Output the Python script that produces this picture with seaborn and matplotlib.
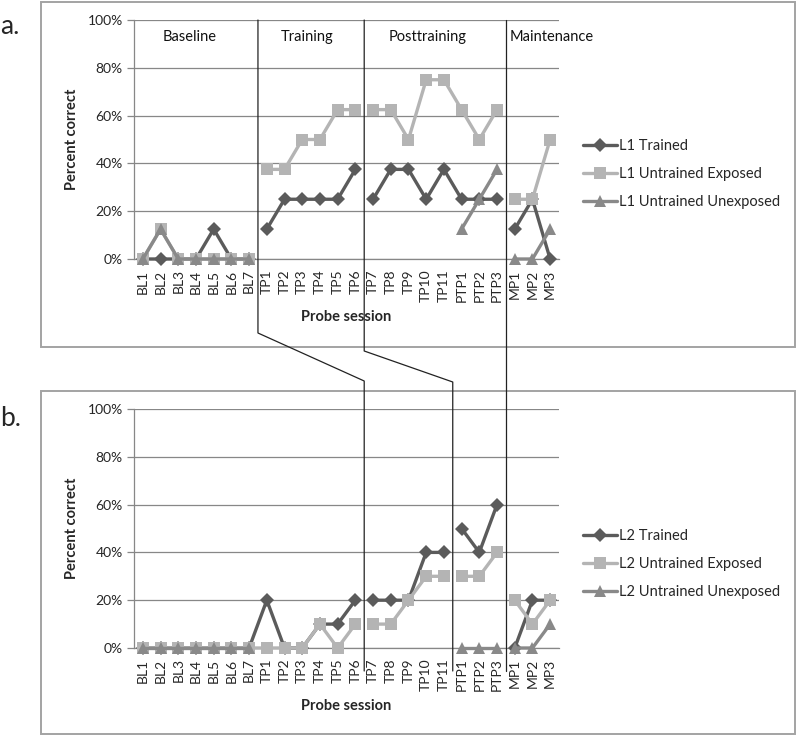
import matplotlib
matplotlib.use("Agg")
import matplotlib.pyplot as plt
from matplotlib.lines import Line2D
from matplotlib.patches import Rectangle
import seaborn as sns
import pandas as pd

# ---------------- data ----------------
sessions = ["BL1", "BL2", "BL3", "BL4", "BL5", "BL6", "BL7",
            "TP1", "TP2", "TP3", "TP4", "TP5", "TP6",
            "TP7", "TP8", "TP9", "TP10", "TP11",
            "PTP1", "PTP2", "PTP3", "MP1", "MP2", "MP3"]
N = None
l1_trained = [0, 0, 0, 0, 12.5, 0, 0,
              12.5, 25, 25, 25, 25, 37.5,
              25, 37.5, 37.5, 25, 37.5,
              25, 25, 25, 12.5, 25, 0]
l1_exposed = [0, 12.5, 0, 0, 0, 0, 0,
              37.5, 37.5, 50, 50, 62.5, 62.5,
              62.5, 62.5, 50, 75, 75,
              62.5, 50, 62.5, 25, 25, 50]
l1_unexposed = [0, 12.5, 0, 0, 0, 0, 0,
                N, N, N, N, N, N,
                N, N, N, N, N,
                12.5, 25, 37.5, 0, 0, 12.5]
l2_trained = [0, 0, 0, 0, 0, 0, 0,
              20, 0, 0, 10, 10, 20,
              20, 20, 20, 40, 40,
              50, 40, 60, 0, 20, 20]
l2_exposed = [0, 0, 0, 0, 0, 0, 0,
              0, 0, 0, 10, 0, 10,
              10, 10, 20, 30, 30,
              30, 30, 40, 20, 10, 20]
l2_unexposed = [0, 0, 0, 0, 0, 0, 0,
                N, N, N, N, N, N,
                N, N, N, N, N,
                0, 0, 0, 0, 0, 10]
phases = ["Baseline", "Training", "Posttraining", "Maintenance"]
# segment id of each session (line breaks between segments)
seg_a = [0] * 7 + [1] * 6 + [2] * 8 + [3] * 3
seg_b = [0] * 13 + [1] * 5 + [2] * 3 + [3] * 3
yticks = [0, 20, 40, 60, 80, 100]

# ---------------- style ----------------
sns.set_style("white")
plt.rcParams["font.family"] = ["Lato", "DejaVu Sans"]

W, H = 798, 737
fig = plt.figure(figsize=(W / 100, H / 100), dpi=100)

def fx(px):
    return px / W

def fy(py):
    return 1 - py / H

C_TR = "#5b5b5b"
C_EX = "#b4b4b4"
C_UN = "#898989"
GRID = "#878787"

series_style = [
    ("Trained", C_TR, "D", 7.0),
    ("Untrained Exposed", C_EX, "s", 8.0),
    ("Untrained Unexposed", C_UN, "^", 8.0),
]

def make_frame(vals, segs):
    rows = []
    for i, (v, s) in enumerate(zip(vals, segs)):
        if v is not None:
            rows.append({"pos": i, "value": v, "seg": s})
    return pd.DataFrame(rows)

def draw_panel(ax, lang, series_vals, segs, legend_y):
    handles = []
    for (name, col, mk, ms), vals in zip(series_style, series_vals):
        df = make_frame(vals, segs)
        sns.lineplot(data=df, x="pos", y="value", units="seg", estimator=None,
                     color=col, marker=mk, markersize=ms, markeredgewidth=0,
                     linewidth=2.4, ax=ax, zorder=3, clip_on=False)
        handles.append(Line2D([], [], color=col, marker=mk, markersize=ms,
                              markeredgewidth=0, linewidth=2.4,
                              label=f"{lang} {name}"))
    ax.set_xlim(-0.5, len(sessions) - 0.5)
    ax.set_ylim(0, 100)
    ax.set_yticks(yticks)
    ax.set_yticklabels([f"{t}%" for t in yticks], fontsize=10)
    ax.set_xticks(range(len(sessions)))
    ax.set_xticklabels(sessions, rotation=90, fontsize=10)
    ax.set_xticks([i - 0.5 for i in range(len(sessions) + 1)], minor=True)
    ax.tick_params(axis="x", which="major", length=0, pad=7.5)
    ax.tick_params(axis="x", which="minor", length=5, color=GRID, width=0.9)
    ax.tick_params(axis="y", length=5, color=GRID, width=0.9, pad=3, left=True)
    ax.yaxis.grid(True, color=GRID, linewidth=0.9)
    ax.xaxis.grid(False)
    ax.set_axisbelow(True)
    for s in ["top", "right"]:
        ax.spines[s].set_visible(False)
    for s in ["left", "bottom"]:
        ax.spines[s].set_color(GRID)
        ax.spines[s].set_linewidth(0.9)
    ax.set_ylabel("Percent correct", fontsize=10.5, fontweight="bold")
    ax.set_xlabel("Probe session", fontsize=10.5, fontweight="bold")
    ax.yaxis.set_label_coords(-0.13, 0.5)
    ax.xaxis.set_label_coords(0.5, -0.215)
    ax.patch.set_alpha(0)
    ax.legend(handles=handles, loc="center left", frameon=False,
              bbox_to_anchor=(fx(583), fy(legend_y)),
              bbox_transform=fig.transFigure, fontsize=10.5,
              handlelength=2.35, handletextpad=0.15, labelspacing=0.95,
              borderaxespad=0, borderpad=0)

# panel boxes
for (top, bot) in [(2, 347), (391, 734)]:
    fig.patches.append(Rectangle((fx(41), fy(bot)), fx(795) - fx(41),
                                 fy(top) - fy(bot), transform=fig.transFigure,
                                 fill=False, edgecolor="#a3a3a3", linewidth=1.4,
                                 zorder=0))

ax_a = fig.add_axes([fx(134), fy(259), fx(559) - fx(134), fy(20) - fy(259)])
ax_b = fig.add_axes([fx(134), fy(648), fx(559) - fx(134), fy(409) - fy(648)])

draw_panel(ax_a, "L1", [l1_trained, l1_exposed, l1_unexposed], seg_a, 174)
draw_panel(ax_b, "L2", [l2_trained, l2_exposed, l2_unexposed], seg_b, 564)

# phase labels in panel a
phase_x = [2.65, 9.25, 16.1]
for name, x in zip(phases[:3], phase_x):
    ax_a.text(x, 93, name, ha="center", va="center", fontsize=10.5, color="#111111")
ax_a.text(20.5 + 0.2, 93, phases[3], ha="left", va="center", fontsize=10.5,
          color="#111111", clip_on=False)

fig.text(0.0, fy(27), "a.", fontsize=19, va="center", ha="left")
fig.text(0.0, fy(418), "b.", fontsize=19, va="center", ha="left")

# phase boundary connector lines
def xfig(ax, xd):
    return fig.transFigure.inverted().transform(ax.transData.transform((xd, 0)))[0]

def connector(xa, xb, ybend1, ybend2):
    xs = [xa, xa, xb, xb]
    ys = [fy(20), fy(ybend1), fy(ybend2), fy(671)]
    fig.lines.append(Line2D(xs, ys, transform=fig.transFigure, color="#222222",
                            linewidth=0.9, zorder=5))

connector(xfig(ax_a, 6.5), xfig(ax_b, 12.5), 333, 381)
connector(xfig(ax_a, 12.5), xfig(ax_b, 17.5), 351, 382)
connector(xfig(ax_a, 20.5), xfig(ax_b, 20.5), 400, 400)

fig.savefig("out.png", dpi=100)
